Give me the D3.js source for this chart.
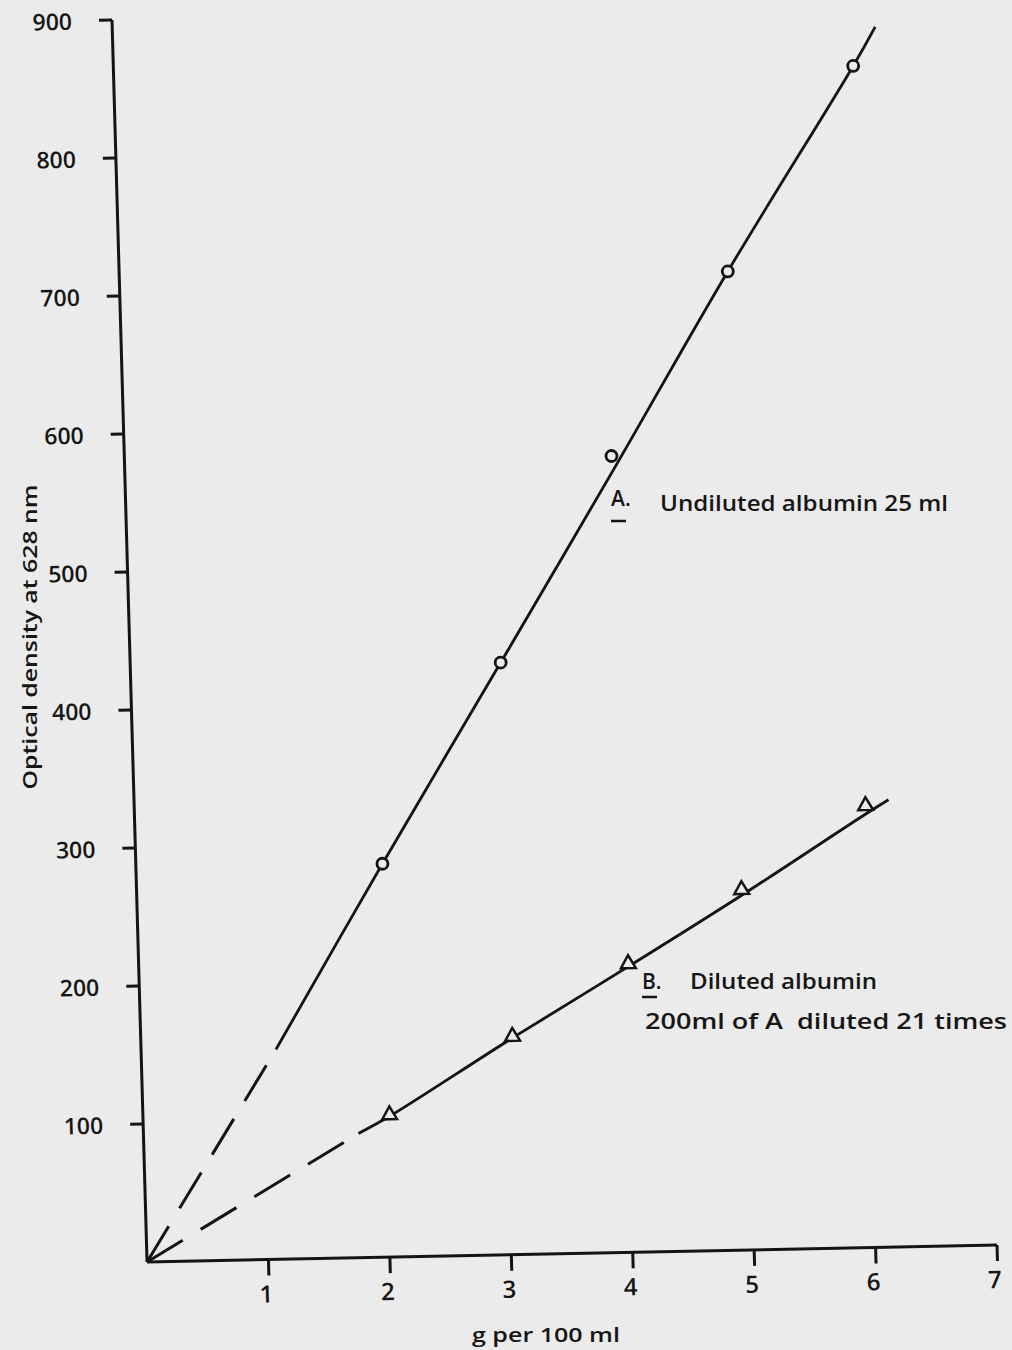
<!DOCTYPE html>
<html>
<head>
<meta charset="utf-8">
<script src="https://cdn.jsdelivr.net/npm/d3@7"></script>
<style>
  body { margin: 0; background: #ebebeb; }
  #vis { width: 1012px; height: 1350px; }
</style>
</head>
<body>
<div id="vis"></div>
<script>
// tick values
const xTicks = [1, 2, 3, 4, 5, 6, 7]
const yTicks = [100, 200, 300, 400, 500, 600, 700, 800, 900]

// A: undiluted albumin (circles)
const xA = [2.03, 3.05, 4.01, 5.01, 6.09]
const yA = [285, 429, 577, 709, 856]
// B: diluted albumin (triangles)
const xB = [2.03, 3.06, 4.03, 4.98, 6.02]
const yB = [103, 158, 209, 261, 320]

// hand drawn fit lines, solid part (dashed part runs from origin to first point)
const fitAx = [1.11, 2.03, 3.05, 4.03, 5.01, 6.09, 6.28]
const fitAy = [152, 285, 429, 568, 709, 856, 884]
const fitBx = [1.77, 2.03, 3.06, 4.03, 4.98, 6.0, 6.21]
const fitBy = [90, 102, 157, 207, 257, 313, 324]

var width = 850,
    height = 1242;

var svg = d3.select("#vis")
  .append("svg")
    .attr("width", 1012)
    .attr("height", 1350)
    .style("font-family", "'Open Sans', sans-serif")
    .style("font-weight", 600)
    .style("fill", "#161616");

// the scanned sheet is slightly askew, so the plot frame is sheared a bit
var plot = svg.append("g")
    .attr("transform", "matrix(1,-0.02,0.0282,1,112,20)");

var x = d3.scaleLinear().domain([0, 7]).range([0, width]);
var y = d3.scaleLinear().domain([0, 900]).range([height, 0]);

var ink = "#141414";

// axes
plot.append("line")
    .attr("x1", x(0)).attr("y1", y(0))
    .attr("x2", x(7)).attr("y2", y(0))
    .attr("stroke", ink).attr("stroke-width", 3);
plot.append("line")
    .attr("x1", x(0)).attr("y1", y(0))
    .attr("x2", x(0)).attr("y2", y(900))
    .attr("stroke", ink).attr("stroke-width", 3);

plot.append("g").selectAll("line")
  .data(xTicks).enter().append("line")
    .attr("x1", d => x(d)).attr("x2", d => x(d))
    .attr("y1", y(0)).attr("y2", y(0) + 16)
    .attr("stroke", ink).attr("stroke-width", 3);

plot.append("g").selectAll("text")
  .data(xTicks).enter().append("text")
    .attr("x", d => x(d) - 3)
    .attr("y", d => y(0) + 43)
    .attr("text-anchor", "middle")
    .style("font-size", "24px")
    .text(d => d);

plot.append("g").selectAll("line")
  .data(yTicks).enter().append("line")
    .attr("x1", x(0) - 13).attr("x2", x(0))
    .attr("y1", d => y(d)).attr("y2", d => y(d))
    .attr("stroke", ink).attr("stroke-width", 3);

plot.append("g").selectAll("text")
  .data(yTicks).enter().append("text")
    .attr("x", x(0) - 40)
    .attr("y", d => y(d) + 9)
    .attr("text-anchor", "end")
    .style("font-size", "23px")
    .text(d => d);

// fit lines
var curve = d3.line()
    .x(d => x(d[0]))
    .y(d => y(d[1]))
    .curve(d3.curveCatmullRom);

function drawFit(fx, fy) {
  var pts = fx.map((v, i) => [v, fy[i]]);
  // dashed extrapolation to origin
  plot.append("path")
      .attr("d", d3.line().x(d => x(d[0])).y(d => y(d[1]))([[0, 0], pts[0]]))
      .attr("fill", "none")
      .attr("stroke", ink)
      .attr("stroke-width", 3)
      .attr("stroke-dasharray", "42 21");
  plot.append("path")
      .attr("d", curve(pts))
      .attr("fill", "none")
      .attr("stroke", ink)
      .attr("stroke-width", 2.8);
}
drawFit(fitAx, fitAy);
drawFit(fitBx, fitBy);

// markers
plot.append("g").selectAll("circle")
  .data(xA).enter().append("circle")
    .attr("cx", d => x(d))
    .attr("cy", (d, i) => y(yA[i]))
    .attr("r", 5.5)
    .attr("fill", "#ebebeb")
    .attr("stroke", ink)
    .attr("stroke-width", 2.8);

var tri = d3.symbol().type(d3.symbolTriangle).size(95);
plot.append("g").selectAll("path")
  .data(xB).enter().append("path")
    .attr("d", tri)
    .attr("transform", (d, i) => "translate(" + x(d) + "," + y(yB[i]) + ")")
    .attr("fill", "#ebebeb")
    .attr("stroke", ink)
    .attr("stroke-width", 2.5);

// annotations
var notes = svg.append("g").style("font-size", "21px");

notes.append("text").attr("x", 611).attr("y", 506).text("A.");
notes.append("line")
    .attr("x1", 611).attr("x2", 626).attr("y1", 521).attr("y2", 521)
    .attr("stroke", ink).attr("stroke-width", 2.5);
notes.append("text")
    .attr("x", 660).attr("y", 511)
    .attr("textLength", 288).attr("lengthAdjust", "spacingAndGlyphs")
    .text("Undiluted albumin 25 ml");

notes.append("text").attr("x", 642).attr("y", 989).text("B.");
notes.append("line")
    .attr("x1", 642).attr("x2", 657).attr("y1", 997).attr("y2", 997)
    .attr("stroke", ink).attr("stroke-width", 2.5);
notes.append("text")
    .attr("x", 690).attr("y", 989)
    .attr("textLength", 187).attr("lengthAdjust", "spacingAndGlyphs")
    .text("Diluted albumin");
notes.append("text")
    .attr("x", 645).attr("y", 1029)
    .attr("textLength", 362).attr("lengthAdjust", "spacingAndGlyphs")
    .style("white-space", "pre")
    .text("200ml of A  diluted 21 times");

// axis titles
svg.append("text")
    .attr("transform", "translate(37,637) rotate(-90)")
    .attr("text-anchor", "middle")
    .attr("textLength", 305).attr("lengthAdjust", "spacingAndGlyphs")
    .style("font-size", "20px")
    .text("Optical density at 628 nm");

svg.append("text")
    .attr("x", 472).attr("y", 1342)
    .attr("textLength", 148).attr("lengthAdjust", "spacingAndGlyphs")
    .style("font-size", "19px")
    .text("g per 100 ml");
</script>
</body>
</html>
